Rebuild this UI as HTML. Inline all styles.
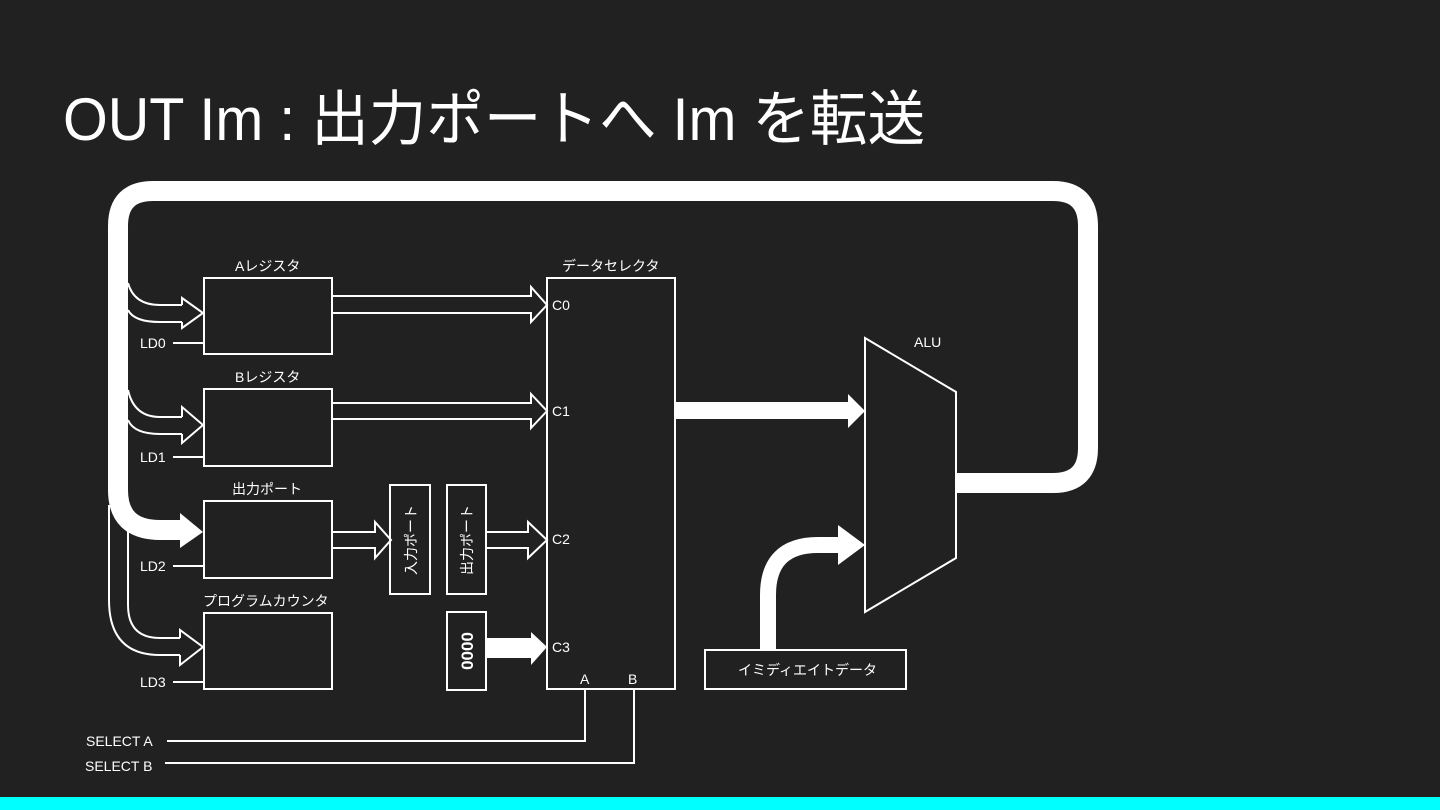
<!DOCTYPE html>
<html><head><meta charset="utf-8"><style>
html,body{margin:0;padding:0;background:#212121;}
svg{display:block}
text{font-family:"Liberation Sans","Noto Sans CJK JP",sans-serif;fill:#fff}
</style></head><body>
<svg width="1440" height="810" viewBox="0 0 1440 810" xmlns="http://www.w3.org/2000/svg">
<rect width="1440" height="810" fill="#212121"/>
<rect x="0" y="797" width="1440" height="13" fill="#00ffff"/>
<text x="63" y="140" font-size="60" textLength="862" lengthAdjust="spacingAndGlyphs">OUT Im : 出力ポートへ Im を転送</text>

<g fill="none" stroke="#fff" stroke-width="2">
<!-- thin input curves A -->
<path d="M128 283 Q134 305 160 305 L182 305"/>
<path d="M128 310 Q134 322 160 322 L182 322"/>
<path d="M182 305 L182 298 L203 313 L182 328 L182 322"/>
<!-- B -->
<path d="M128 390 Q134 417 160 417 L182 417"/>
<path d="M128 420 Q134 434 160 434 L182 434"/>
<path d="M182 417 L182 407 L203 425 L182 443 L182 434"/>
<!-- PC -->
<path d="M109 505 L109 600 Q109 655 160 655 L180 655"/>
<path d="M128 520 L128 605 Q128 638 160 638 L180 638"/>
<path d="M180 638 L180 630 L203 647 L180 665 L180 655"/>
<!-- boxes -->
<rect x="204" y="278" width="128" height="76"/>
<rect x="204" y="389" width="128" height="77"/>
<rect x="204" y="501" width="128" height="77"/>
<rect x="204" y="613" width="128" height="76"/>
<rect x="547" y="278" width="128" height="411"/>
<rect x="390" y="485" width="40" height="109"/>
<rect x="447" y="485" width="39" height="109"/>
<rect x="447" y="612" width="39" height="78"/>
<rect x="705" y="650" width="201" height="39"/>
<polygon points="865,338 956,392 956,558 865,612"/>
<!-- LD lines -->
<path d="M173 343 H204 M173 457 H204 M173 566 H204 M173 682 H204"/>
<!-- hollow arrows to selector -->
<path d="M332 296 H531 V287 L547 305 L531 322 V313 H332"/>
<path d="M332 403 H531 V394 L547 411 L531 428 V419 H332"/>
<path d="M332 532 H375 V522 L391 540 L375 558 V548 H332"/>
<path d="M486 532 H528 V522 L547 540 L528 558 V548 H486"/>
<!-- select lines -->
<path d="M167 741 H585 V689 M165 763 H634 V689"/>
</g>

<!-- thick bus -->
<path d="M956 483 H1053 Q1088 483 1088 448 V226 Q1088 191 1053 191 H153 Q118 191 118 226 V490 Q118 530 160 530 H182" fill="none" stroke="#fff" stroke-width="20"/>
<polygon points="180,513 203,532 180,548" fill="#fff"/>
<!-- selector->ALU -->
<rect x="676" y="402" width="174" height="17" fill="#fff"/>
<polygon points="848,394 865,411 848,428" fill="#fff"/>
<!-- 0000 -> C3 -->
<rect x="486" y="638" width="47" height="20" fill="#fff"/>
<polygon points="531,632 547,647 531,665" fill="#fff"/>
<!-- imm -> ALU -->
<path d="M768 650 V595 Q768 545 818 545 H842" fill="none" stroke="#fff" stroke-width="16"/>
<polygon points="838,525 865,545 838,565" fill="#fff"/>

<g font-size="14">
<text x="235" y="271">Aレジスタ</text>
<text x="235" y="382">Bレジスタ</text>
<text x="232" y="494">出力ポート</text>
<text x="203" y="606">プログラムカウンタ</text>
<text x="562" y="271">データセレクタ</text>
<text x="914" y="347">ALU</text>
<text x="140" y="348">LD0</text>
<text x="140" y="462">LD1</text>
<text x="140" y="571">LD2</text>
<text x="140" y="687">LD3</text>
<text x="552" y="310">C0</text>
<text x="552" y="416">C1</text>
<text x="552" y="544">C2</text>
<text x="552" y="652">C3</text>
<text x="580" y="684">A</text>
<text x="628" y="684">B</text>
<text x="86" y="746">SELECT A</text>
<text x="85" y="771">SELECT B</text>
<text x="738" y="675">イミディエイトデータ</text>
<text transform="translate(416,540) rotate(-90)" text-anchor="middle">入力ポート</text>
<text transform="translate(472,540) rotate(-90)" text-anchor="middle">出力ポート</text>
<text transform="translate(473,651) rotate(-90)" text-anchor="middle" font-size="17" font-weight="bold">0000</text>
</g>
</svg>
</body></html>
